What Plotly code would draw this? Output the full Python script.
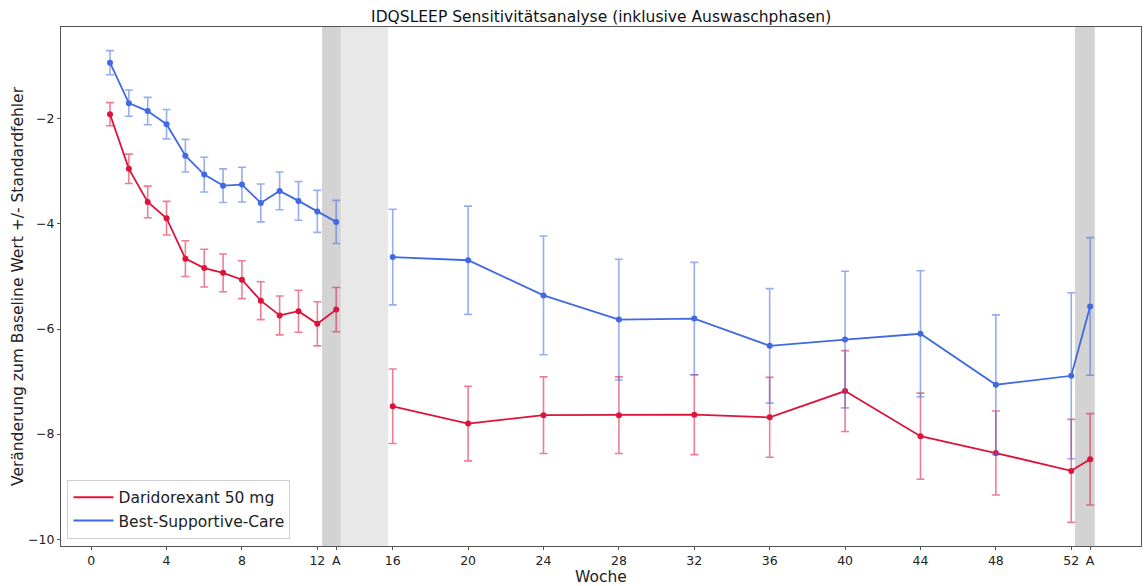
import plotly.graph_objects as go

# Data
weeks_phase1 = [1, 2, 3, 4, 5, 6, 7, 8, 9, 10, 11, 12, 13]
weeks_phase2 = [16, 20, 24, 28, 32, 36, 40, 44, 48, 52, 53]

dari_mean_p1 = [-1.91, -2.95, -3.58, -3.89, -4.66, -4.84, -4.93, -5.06, -5.46, -5.74, -5.66, -5.90, -5.63]
dari_se_p1 = [0.22, 0.28, 0.30, 0.32, 0.34, 0.36, 0.36, 0.36, 0.36, 0.37, 0.40, 0.42, 0.42]
dari_mean_p2 = [-7.47, -7.80, -7.64, -7.64, -7.63, -7.68, -7.18, -8.04, -8.36, -8.70, -8.48]
dari_se_p2 = [0.71, 0.71, 0.73, 0.73, 0.76, 0.76, 0.77, 0.82, 0.80, 0.98, 0.87]

bsc_mean_p1 = [-0.93, -1.70, -1.85, -2.10, -2.70, -3.06, -3.27, -3.25, -3.60, -3.37, -3.56, -3.76, -3.96]
bsc_se_p1 = [0.23, 0.25, 0.26, 0.28, 0.31, 0.33, 0.32, 0.33, 0.36, 0.36, 0.37, 0.40, 0.41]
bsc_mean_p2 = [-4.63, -4.69, -5.36, -5.82, -5.80, -6.32, -6.20, -6.09, -7.06, -6.89, -5.57]
bsc_se_p2 = [0.91, 1.03, 1.13, 1.15, 1.07, 1.09, 1.30, 1.20, 1.33, 1.58, 1.31]

tick_vals = [0, 4, 8, 12, 13, 16, 20, 24, 28, 32, 36, 40, 44, 48, 52, 53]
tick_text = ["0", "4", "8", "12", "A", "16", "20", "24", "28", "32", "36", "40", "44", "48", "52", "A"]

series_names = ["Daridorexant 50 mg", "Best-Supportive-Care"]
RED = "#DC143C"
BLUE = "#4169E1"
RED_ERR = "rgba(220,20,60,0.55)"
BLUE_ERR = "rgba(65,105,225,0.55)"

fig = go.Figure()

# shaded washout phases
fig.add_vrect(x0=12.25, x1=13.25, fillcolor="#d3d3d3", line_width=0, layer="below")
fig.add_vrect(x0=13.25, x1=15.75, fillcolor="#e8e8e8", line_width=0, layer="below")
fig.add_vrect(x0=52.2, x1=53.25, fillcolor="#d3d3d3", line_width=0, layer="below")

def add_series(x, y, se, color, ecolor):
    fig.add_trace(go.Scatter(
        x=x, y=y, mode="lines+markers",
        line=dict(color=color, width=1.8),
        marker=dict(color=color, size=6),
        error_y=dict(type="data", array=se, visible=True, color=ecolor, thickness=1.6, width=4),
        showlegend=False, hoverinfo="skip",
    ))

add_series(weeks_phase1, dari_mean_p1, dari_se_p1, RED, RED_ERR)
add_series(weeks_phase2, dari_mean_p2, dari_se_p2, RED, RED_ERR)
add_series(weeks_phase1, bsc_mean_p1, bsc_se_p1, BLUE, BLUE_ERR)
add_series(weeks_phase2, bsc_mean_p2, bsc_se_p2, BLUE, BLUE_ERR)

# legend entries (lines only)
fig.add_trace(go.Scatter(x=[None], y=[None], mode="lines", line=dict(color=RED, width=2), name=series_names[0]))
fig.add_trace(go.Scatter(x=[None], y=[None], mode="lines", line=dict(color=BLUE, width=2), name=series_names[1]))

fig.update_layout(
    width=1144, height=586,
    margin=dict(l=61, r=3, t=27, b=40),
    paper_bgcolor="white", plot_bgcolor="white",
    font=dict(family="DejaVu Sans", color="#222", size=12),
    title=dict(text="IDQSLEEP Sensitivitätsanalyse (inklusive Auswaschphasen)",
               x=0.5255, xanchor="center", y=0.972, yanchor="middle",
               font=dict(size=15.5, color="#111")),
    legend=dict(x=0.006, y=0.014, xanchor="left", yanchor="bottom",
                bgcolor="rgba(255,255,255,0.9)", bordercolor="#d0d0d0", borderwidth=1,
                font=dict(size=15.5, color="#222"), itemwidth=40,
                tracegroupgap=2),
)

fig.update_xaxes(
    range=[-1.6, 55.7], tickmode="array", tickvals=tick_vals, ticktext=tick_text,
    showgrid=False, zeroline=False, showline=True, linecolor="#555", linewidth=1, mirror=True,
    ticks="outside", ticklen=3, tickcolor="#555", tickfont=dict(size=12.5, color="#222"),
    title=dict(text="Woche", font=dict(size=15.5, color="#222"), standoff=0),
)
fig.update_yaxes(
    range=[-10.13, -0.25], tickvals=[-10, -8, -6, -4, -2],
    showgrid=False, zeroline=False, showline=True, linecolor="#555", linewidth=1, mirror=True,
    ticks="outside", ticklen=3, tickcolor="#555", tickfont=dict(size=12.5, color="#222"),
    title=dict(text="Veränderung zum Baseline Wert +/- Standardfehler", font=dict(size=15.5, color="#222"), standoff=0),
)

fig.write_html("out.html")
